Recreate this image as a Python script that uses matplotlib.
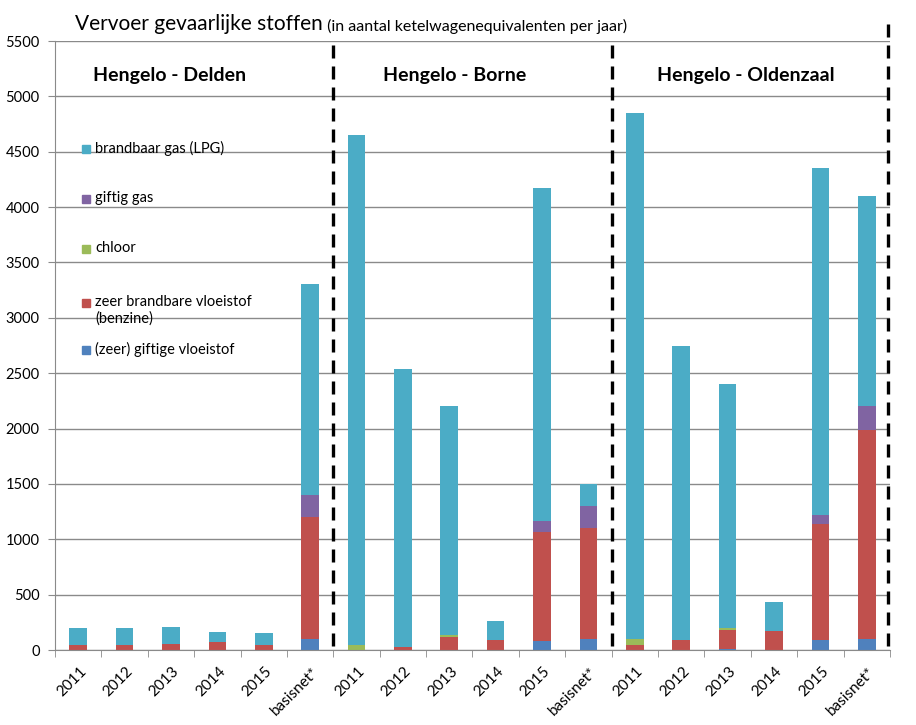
import matplotlib.pyplot as plt
import matplotlib.transforms as mtransforms
from matplotlib.patches import Rectangle
import numpy as np

plt.rcParams['font.family'] = ['Lato', 'DejaVu Sans']

# data (ketelwagenequivalenten per jaar)
years = ['2011', '2012', '2013', '2014', '2015', 'basisnet*']
trajecten = ['Hengelo - Delden', 'Hengelo - Borne', 'Hengelo - Oldenzaal']
labels = years * 3

giftige_vloeistof = [0, 0, 0, 0, 0, 100,
                     0, 0, 0, 0, 85, 100,
                     0, 0, 10, 0, 90, 100]
benzine = [45, 45, 55, 75, 45, 1100,
           0, 30, 120, 95, 985, 1000,
           45, 90, 170, 170, 1050, 1890]
chloor = [0, 0, 0, 0, 0, 0,
          45, 0, 15, 0, 0, 0,
          55, 0, 20, 0, 0, 0]
giftig_gas = [0, 0, 0, 0, 0, 200,
              0, 0, 0, 0, 95, 200,
              0, 0, 0, 0, 80, 210]
lpg = [155, 155, 155, 90, 110, 1910,
       4605, 2510, 2065, 165, 3005, 200,
       4750, 2660, 2200, 265, 3130, 1900]

series = [
    (giftige_vloeistof, '(zeer) giftige vloeistof', '#4F81BD'),
    (benzine, 'zeer brandbare vloeistof\n(benzine)', '#C0504D'),
    (chloor, 'chloor', '#9BBB59'),
    (giftig_gas, 'giftig gas', '#8064A2'),
    (lpg, 'brandbaar gas (LPG)', '#4BACC6'),
]

fig = plt.figure(figsize=(9.16, 7.25), dpi=100)
ax = fig.add_axes([0.060, 0.1034, 0.9116, 0.84])

x = np.arange(len(labels))
bottom = np.zeros(len(labels))
for vals, name, color in series:
    ax.bar(x, vals, 0.38, bottom=bottom, color=color, label=name, zorder=2)
    bottom += np.array(vals)

ax.set_xlim(-0.5, 17.5)
ax.set_ylim(0, 5500)
ax.set_yticks(np.arange(0, 5501, 500))
ax.yaxis.grid(True, color='#8a8a8a', lw=1)
ax.set_axisbelow(True)
for s in ['top', 'right']:
    ax.spines[s].set_visible(False)
ax.spines['left'].set_color('#8a8a8a')
ax.spines['bottom'].set_color('#8a8a8a')
ax.tick_params(axis='y', length=5, color='#8a8a8a', labelsize=10.5, pad=6)

ax.set_xticks(x)
ax.set_xticklabels(labels, rotation=45, ha='right', va='center',
                   rotation_mode='anchor', fontsize=11)
ax.set_xticks(np.arange(-0.5, 18, 1), minor=True)
ax.tick_params(axis='x', which='major', length=0, pad=14)
ax.tick_params(axis='x', which='minor', length=5, color='#8a8a8a')
shift = mtransforms.ScaledTranslation(6 / 100, 0, fig.dpi_scale_trans)
for lab in ax.get_xticklabels():
    lab.set_transform(lab.get_transform() + shift)

# scheidingslijnen
for xv, top in [(5.5, 5460), (11.5, 5460), (17.45, 5700)]:
    ax.plot([xv, xv], [40, top], color='black', lw=2.4, dashes=(3.9, 2.4),
            clip_on=False, zorder=3)

# trajectnamen
for xc, name in zip([1.96, 8.12, 14.4], trajecten):
    ax.text(xc, 5190, name, ha='center', va='center', fontsize=14,
            fontweight='bold')

# titel
t = fig.text(75 / 916, 1 - 30 / 725, 'Vervoer gevaarlijke stoffen',
             fontsize=15, va='baseline', ha='left')
ax.annotate(' (in aantal ketelwagenequivalenten per jaar)', xy=(1, 0),
            xycoords=t, va='bottom', ha='left', fontsize=11.5)

# legenda
leg_y = [350, 303, 249, 199, 149]
for (vals, name, color), py in zip(series, leg_y):
    yf = (650 - py) / 609
    ax.add_patch(Rectangle(((82 - 55) / 835, yf - 4 / 609), 8 / 835, 8 / 609,
                           transform=ax.transAxes, color=color, clip_on=False))
    ax.text((95 - 55) / 835, yf + 8 / 609, name, transform=ax.transAxes,
            ha='left', va='top', fontsize=10.5, linespacing=1.25)

fig.savefig('out.png', dpi=100)
